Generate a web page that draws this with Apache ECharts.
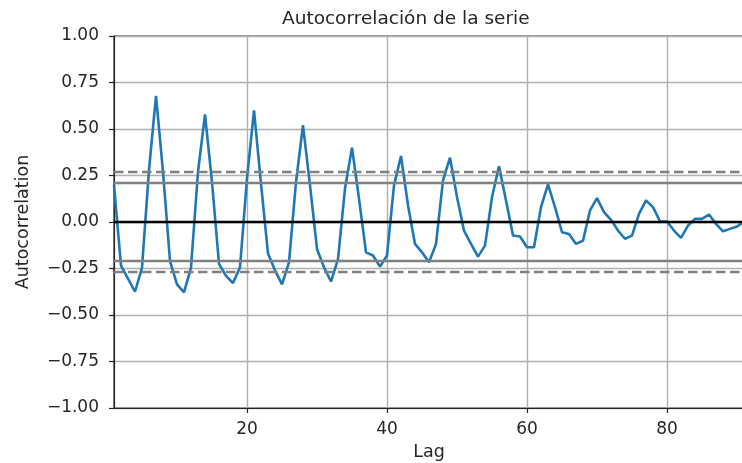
<!DOCTYPE html>
<html>
<head>
<meta charset="utf-8">
<script src="https://cdn.jsdelivr.net/npm/echarts@6/dist/echarts.min.js"></script>
<style>
  html, body { margin: 0; padding: 0; background: #fff; }
  #main { width: 742px; height: 463px; }
</style>
</head>
<body>
<div id="main"></div>
<script>
// autocorrelation values for lags 1..91
const acf = [
  0.20, -0.235, -0.305, -0.375, -0.245, 0.28, 0.678, 0.27, -0.21, -0.335,
  -0.378, -0.245, 0.27, 0.578, 0.215, -0.225, -0.29, -0.328, -0.244, 0.235,
  0.60, 0.206, -0.17, -0.26, -0.335, -0.217, 0.215, 0.52, 0.197, -0.145,
  -0.244, -0.32, -0.2, 0.18, 0.40, 0.125, -0.163, -0.18, -0.24, -0.18,
  0.197, 0.355, 0.09, -0.118, -0.163, -0.217, -0.118, 0.224, 0.346, 0.134,
  -0.046, -0.118, -0.186, -0.127, 0.134, 0.30, 0.116, -0.073, -0.078, -0.136,
  -0.136, 0.08, 0.202, 0.08, -0.055, -0.064, -0.118, -0.1, 0.062, 0.128,
  0.053, 0.012, -0.046, -0.09, -0.073, 0.044, 0.116, 0.08, 0.004, 0.003,
  -0.046, -0.085, -0.019, 0.017, 0.017, 0.04, -0.01, -0.05, -0.037, -0.024,
  0
];
const lags = acf.map((v, i) => i + 1);
const xTicks = [20, 40, 60, 80];
const nObs = 91;
const conf95 = 1.959963985 / Math.sqrt(nObs);
const conf99 = 2.575829304 / Math.sqrt(nObs);

const chart = echarts.init(document.getElementById('main'));
const font = 'DejaVu Sans';
const textColor = '#262626';

const option = {
  animation: false,
  title: {
    text: 'Autocorrelación de la serie',
    left: 277,
    top: 5,
    textStyle: { fontFamily: font, fontSize: 18.5, fontWeight: 'normal', color: textColor }
  },
  grid: {
    left: 114, top: 36, right: -2, bottom: 55,
    outerBoundsMode: 'none',
    show: true, borderColor: '#262626', borderWidth: 1.2
  },
  xAxis: {
    type: 'value',
    min: 1,
    max: nObs,
    name: 'Lag',
    nameLocation: 'middle',
    nameGap: 35,
    nameTextStyle: { fontFamily: font, fontSize: 17.5, color: textColor },
    axisLine: { show: true, onZero: false, lineStyle: { color: '#262626', width: 1.2 } },
    axisTick: { show: true, customValues: xTicks, length: 5, lineStyle: { color: '#262626', width: 1.2 } },
    axisLabel: { customValues: xTicks, margin: 13, fontFamily: font, fontSize: 17, color: textColor },
    splitLine: { show: true, lineStyle: { color: '#b0b0b0', width: 1.4 } }
  },
  yAxis: {
    type: 'value',
    min: -1,
    max: 1,
    interval: 0.25,
    name: 'Autocorrelation',
    nameLocation: 'middle',
    nameGap: 82,
    nameTextStyle: { fontFamily: font, fontSize: 17.5, color: textColor },
    axisLine: { show: true, lineStyle: { color: '#262626', width: 1.2 } },
    axisTick: { show: true, length: 5, lineStyle: { color: '#262626', width: 1.2 } },
    axisLabel: {
      margin: 15,
      fontFamily: font, fontSize: 17, color: textColor,
      formatter: v => (v < 0 ? '\u2212' : '') + Math.abs(v).toFixed(2)
    },
    splitLine: { show: true, lineStyle: { color: '#b0b0b0', width: 1.4 } }
  },
  series: [
    {
      type: 'line',
      data: lags.map((l, i) => [l, acf[i]]),
      symbol: 'none',
      lineStyle: { color: '#1f77b4', width: 2.6 },
      markLine: {
        silent: true,
        symbol: 'none',
        label: { show: false },
        data: [
          { yAxis: conf99, lineStyle: { color: '#808080', width: 2.4, type: [9.5, 4.5] } },
          { yAxis: conf95, lineStyle: { color: '#808080', width: 2.4, type: 'solid' } },
          { yAxis: 0, lineStyle: { color: '#000000', width: 2.4, type: 'solid' } },
          { yAxis: -conf95, lineStyle: { color: '#808080', width: 2.4, type: 'solid' } },
          { yAxis: -conf99, lineStyle: { color: '#808080', width: 2.4, type: [9.5, 4.5] } }
        ]
      }
    }
  ]
};

chart.setOption(option);
</script>
</body>
</html>
